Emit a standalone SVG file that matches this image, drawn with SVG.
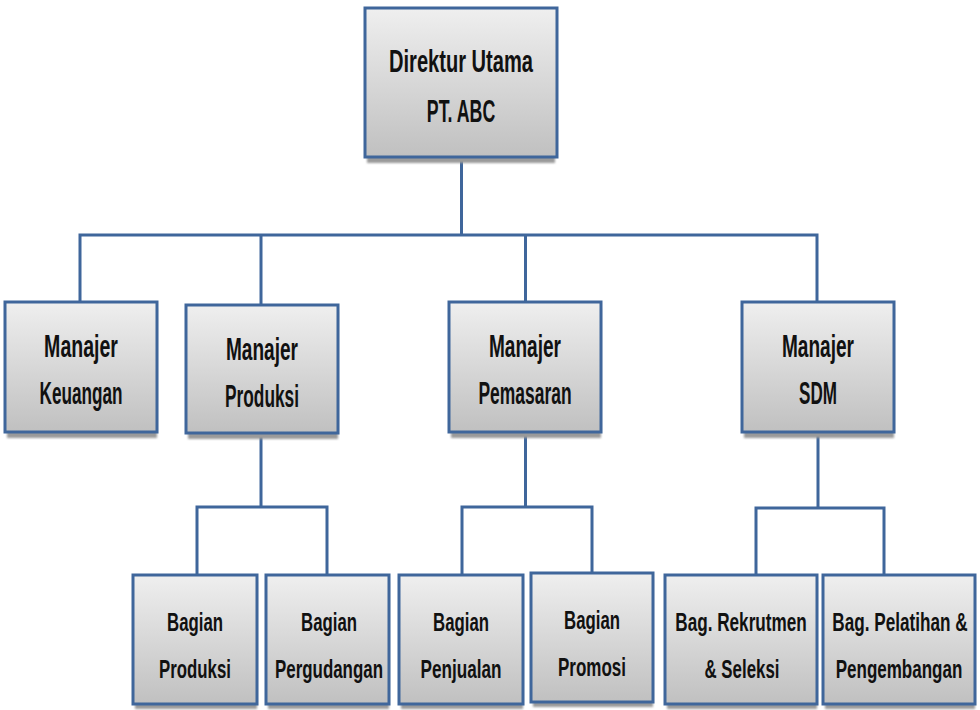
<svg xmlns="http://www.w3.org/2000/svg" width="980" height="710" viewBox="0 0 980 710">
<defs>
<linearGradient id="fillGrad" x1="0" y1="0" x2="0" y2="1">
<stop offset="0" stop-color="#efefef"/>
<stop offset="1" stop-color="#c0c0c0"/>
</linearGradient>
<filter id="blur" x="-10%" y="-10%" width="120%" height="130%">
<feGaussianBlur stdDeviation="1.2"/>
</filter>
</defs>
<style>
.box{fill:url(#fillGrad);stroke:#3f669b;stroke-width:3}
.shadow{fill:#9a9a9a;filter:url(#blur)}
.conn{fill:none;stroke:#3f669b;stroke-width:3;stroke-linejoin:miter;stroke-linecap:square}
.t{font-family:"Liberation Sans",Arial,sans-serif;font-weight:bold;font-size:31px;fill:#111;text-anchor:middle}
.s{font-size:26px}
</style>
<rect width="980" height="710" fill="#ffffff"/>

<g id="connectors">
<path class="conn" d="M461.5 157 V235 M80 235 H817 M80 235 V302 M261 235 V305 M525.5 235 V302 M817 235 V302"/>
<path class="conn" d="M261 433 V507 M197 507 H327 M197 507 V575 M327 507 V575"/>
<path class="conn" d="M525.5 432 V507 M462 507 H592 M462 507 V575 M592 507 V573"/>
<path class="conn" d="M818 432 V508 M756 508 H884 M756 508 V575 M884 508 V575"/>
</g>

<g id="direktur">
<rect class="shadow" x="367" y="14" width="188" height="149"/>
<rect class="box" x="365" y="8" width="192" height="149"/>
<text class="t" transform="translate(461,72) scale(0.648,1)">Direktur Utama</text>
<text class="t" transform="translate(461,122) scale(0.573,1)">PT. ABC</text>
</g>

<g id="keuangan">
<rect class="shadow" x="7" y="308" width="150" height="130"/>
<rect class="box" x="5" y="302" width="152" height="130"/>
<text class="t" transform="translate(81,357) scale(0.63,1)">Manajer</text>
<text class="t" transform="translate(81,404) scale(0.554,1)">Keuangan</text>
</g>

<g id="produksi">
<rect class="shadow" x="188" y="311" width="150" height="128"/>
<rect class="box" x="186" y="305" width="152" height="128"/>
<text class="t" transform="translate(262,360) scale(0.615,1)">Manajer</text>
<text class="t" transform="translate(262,407) scale(0.558,1)">Produksi</text>
</g>

<g id="pemasaran">
<rect class="shadow" x="451" y="308" width="150" height="130"/>
<rect class="box" x="449" y="302" width="152" height="130"/>
<text class="t" transform="translate(525,357) scale(0.615,1)">Manajer</text>
<text class="t" transform="translate(525,404) scale(0.563,1)">Pemasaran</text>
</g>

<g id="sdm">
<rect class="shadow" x="744" y="308" width="150" height="130"/>
<rect class="box" x="742" y="302" width="152" height="130"/>
<text class="t" transform="translate(818,357) scale(0.615,1)">Manajer</text>
<text class="t" transform="translate(818,404) scale(0.551,1)">SDM</text>
</g>

<g id="bagian-produksi">
<rect class="shadow" x="135" y="581" width="122" height="128"/>
<rect class="box" x="133" y="575" width="124" height="129"/>
<text class="t s" transform="translate(195,631) scale(0.646,1)">Bagian</text>
<text class="t s" transform="translate(195,678) scale(0.647,1)">Produksi</text>
</g>

<g id="bagian-pergudangan">
<rect class="shadow" x="268" y="581" width="121" height="128"/>
<rect class="box" x="266" y="575" width="123" height="129"/>
<text class="t s" transform="translate(329,631) scale(0.646,1)">Bagian</text>
<text class="t s" transform="translate(329,678) scale(0.65,1)">Pergudangan</text>
</g>

<g id="bagian-penjualan">
<rect class="shadow" x="401" y="581" width="122" height="128"/>
<rect class="box" x="399" y="575" width="124" height="129"/>
<text class="t s" transform="translate(461,631) scale(0.646,1)">Bagian</text>
<text class="t s" transform="translate(461,678) scale(0.66,1)">Penjualan</text>
</g>

<g id="bagian-promosi">
<rect class="shadow" x="533" y="579" width="120" height="128"/>
<rect class="box" x="531" y="573" width="122" height="129"/>
<text class="t s" transform="translate(592,629) scale(0.646,1)">Bagian</text>
<text class="t s" transform="translate(592,676) scale(0.654,1)">Promosi</text>
</g>

<g id="bag-rekrutmen">
<rect class="shadow" x="667" y="581" width="150" height="128"/>
<rect class="box" x="665" y="575" width="152" height="129"/>
<text class="t s" transform="translate(741,631) scale(0.66,1)">Bag. Rekrutmen</text>
<text class="t s" transform="translate(742,678) scale(0.649,1)">&amp; Seleksi</text>
</g>

<g id="bag-pelatihan">
<rect class="shadow" x="825" y="581" width="150" height="128"/>
<rect class="box" x="823" y="575" width="152" height="129"/>
<text class="t s" transform="translate(900,631) scale(0.66,1)">Bag. Pelatihan &amp;</text>
<text class="t s" transform="translate(899,678) scale(0.654,1)">Pengembangan</text>
</g>
</svg>
